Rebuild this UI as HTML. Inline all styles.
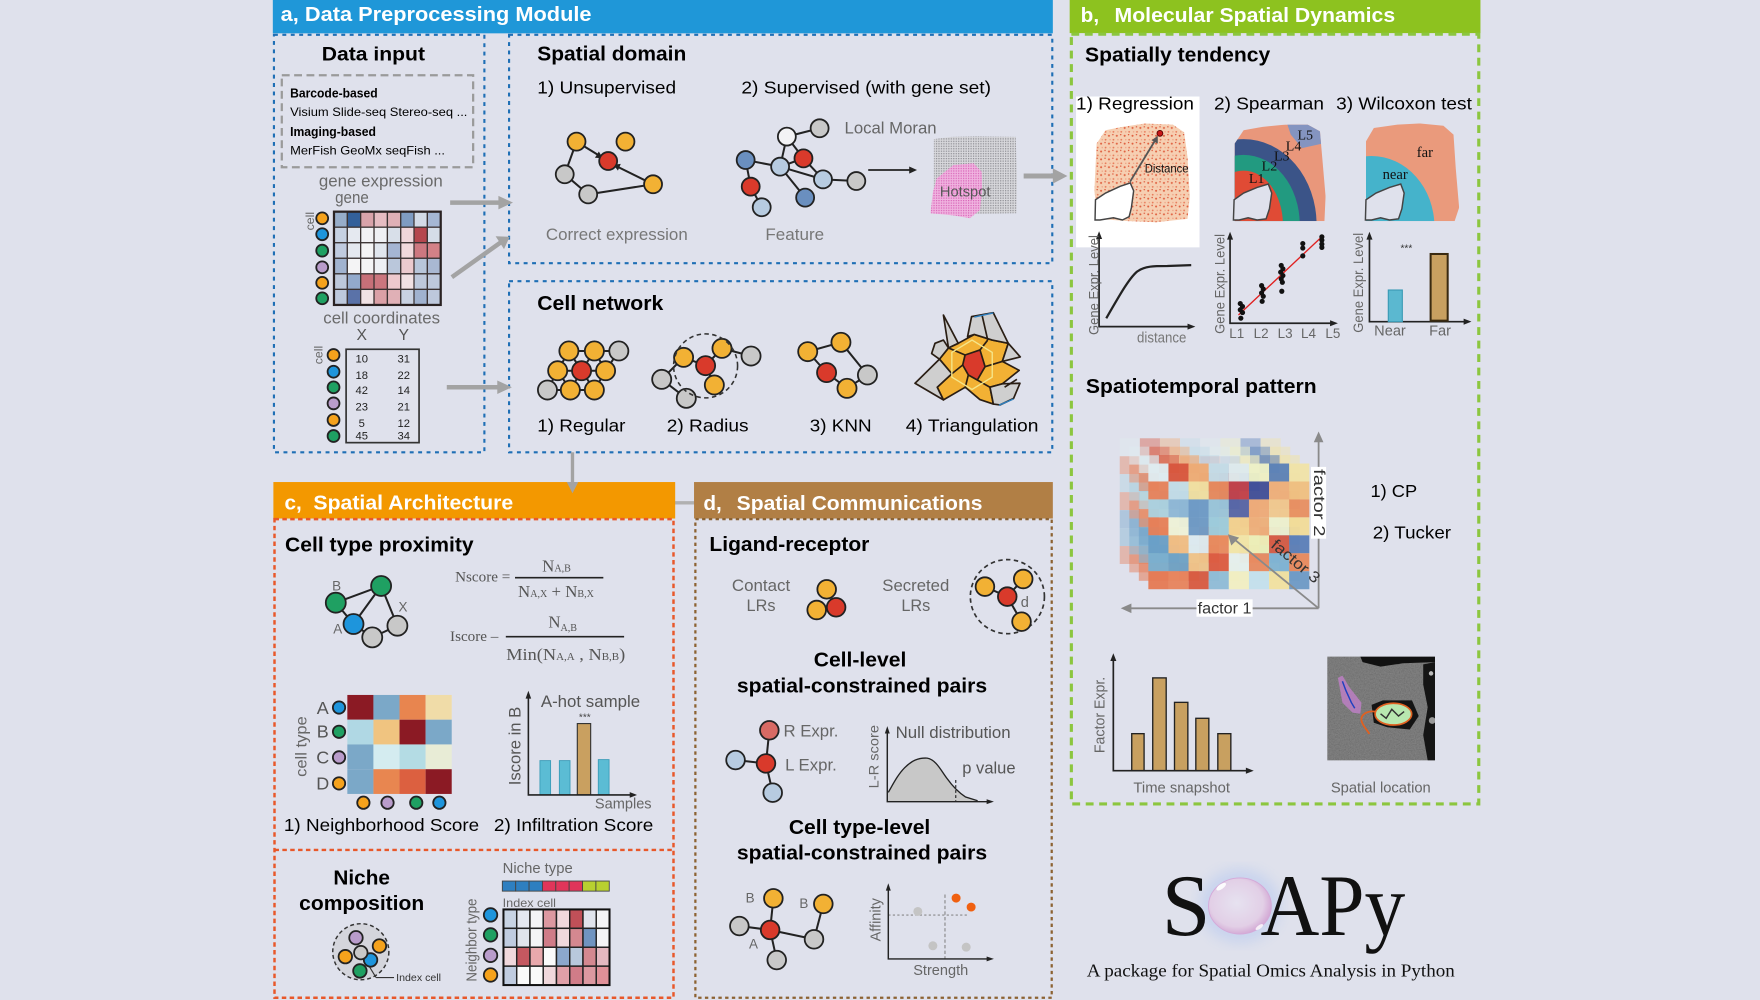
<!DOCTYPE html>
<html><head><meta charset="utf-8"><style>
html,body{margin:0;padding:0;background:#dfe1ec;}
svg{display:block;}
text{font-family:"Liberation Sans",Arial,sans-serif;}
.sf,.sf text,text.sf{font-family:"Liberation Serif","Times New Roman",serif;}
.n{stroke:#222;stroke-width:1.6;}
.o{fill:#f2b134}.r{fill:#d93a2b}.g{fill:#c8c8c8}.w{fill:#f3f3f5}.lb{fill:#b7cbe0}.sb{fill:#6a8fbf}
.cb{fill:#1e95dc}.cg{fill:#1fa062}.cp{fill:#b99ccb}.co{fill:#f5a21c}
.e{stroke:#222;stroke-width:1.8;fill:none}
.gl{fill:#666}
.hm rect{stroke:#3a3232;stroke-width:1.1}
</style></head><body>
<svg width="1760" height="1000" viewBox="0 0 1568 891" xmlns="http://www.w3.org/2000/svg">
<defs>
<pattern id="speck" width="7" height="7" patternUnits="userSpaceOnUse">
<rect width="7" height="7" fill="#f6cfb2"/>
<circle cx="1" cy="2" r="0.9" fill="#e0603f"/><circle cx="5" cy="5.5" r="0.8" fill="#e87a58"/><circle cx="4.5" cy="1" r="0.6" fill="#d9482c"/><circle cx="2" cy="5.5" r="0.6" fill="#ec9a7c"/>
</pattern>
<pattern id="dotg" width="2.2" height="2.2" patternUnits="userSpaceOnUse">
<rect width="2.2" height="2.2" fill="#d8d8dc"/><rect width="1.1" height="1.1" fill="#8e8e94"/>
</pattern>
<pattern id="dotp" width="2.2" height="2.2" patternUnits="userSpaceOnUse">
<rect width="2.2" height="2.2" fill="#f0b4e0"/><rect width="1.1" height="1.1" fill="#d865b8"/>
</pattern>
<filter id="noise" x="0" y="0" width="1" height="1">
<feTurbulence type="fractalNoise" baseFrequency="0.9" numOctaves="2" seed="4"/>
<feColorMatrix type="saturate" values="0"/>
<feComponentTransfer><feFuncA type="linear" slope="0" intercept="0.4"/></feComponentTransfer>
</filter>
<filter id="blur6"><feGaussianBlur stdDeviation="6"/></filter>
<radialGradient id="bub" cx="0.45" cy="0.45" r="0.6">
<stop offset="0" stop-color="#e6e2f0"/><stop offset="0.7" stop-color="#e2cfe6"/><stop offset="1" stop-color="#cf9fd0"/>
</radialGradient>
<g id="tg">
<rect x="0" y="0" width="17.93" height="16" fill="#e0ecf0"/><rect x="17.93" y="0" width="17.93" height="16" fill="#d8553d"/><rect x="35.86" y="0" width="17.93" height="16" fill="#eeac76"/><rect x="53.79" y="0" width="17.93" height="16" fill="#c4dde8"/><rect x="71.72" y="0" width="17.93" height="16" fill="#e0ecee"/><rect x="89.65" y="0" width="17.93" height="16" fill="#eef2c8"/><rect x="107.58" y="0" width="17.93" height="16" fill="#5b82b8"/><rect x="125.51" y="0" width="17.93" height="16" fill="#f1e4a8"/>
<rect x="0" y="16" width="17.93" height="16" fill="#e8825a"/><rect x="17.93" y="16" width="17.93" height="16" fill="#c4dde8"/><rect x="35.86" y="16" width="17.93" height="16" fill="#f2e0a0"/><rect x="53.79" y="16" width="17.93" height="16" fill="#e8895c"/><rect x="71.72" y="16" width="17.93" height="16" fill="#c0404a"/><rect x="89.65" y="16" width="17.93" height="16" fill="#3f4f9a"/><rect x="107.58" y="16" width="17.93" height="16" fill="#eeb07c"/><rect x="125.51" y="16" width="17.93" height="16" fill="#f0c080"/>
<rect x="0" y="32" width="17.93" height="16" fill="#abd0de"/><rect x="17.93" y="32" width="17.93" height="16" fill="#8fb8d6"/><rect x="35.86" y="32" width="17.93" height="16" fill="#6e9ac6"/><rect x="53.79" y="32" width="17.93" height="16" fill="#99c4da"/><rect x="71.72" y="32" width="17.93" height="16" fill="#5565a8"/><rect x="89.65" y="32" width="17.93" height="16" fill="#eeaa78"/><rect x="107.58" y="32" width="17.93" height="16" fill="#f0c890"/><rect x="125.51" y="32" width="17.93" height="16" fill="#e88f60"/>
<rect x="0" y="48" width="17.93" height="16" fill="#e67f58"/><rect x="17.93" y="48" width="17.93" height="16" fill="#eef2d8"/><rect x="35.86" y="48" width="17.93" height="16" fill="#6e9ac6"/><rect x="53.79" y="48" width="17.93" height="16" fill="#9ccbdc"/><rect x="71.72" y="48" width="17.93" height="16" fill="#f2d08f"/><rect x="89.65" y="48" width="17.93" height="16" fill="#eeb07c"/><rect x="107.58" y="48" width="17.93" height="16" fill="#eef2d0"/><rect x="125.51" y="48" width="17.93" height="16" fill="#f2dc98"/>
<rect x="0" y="64" width="17.93" height="16" fill="#6aa0c8"/><rect x="17.93" y="64" width="17.93" height="16" fill="#f0bd84"/><rect x="35.86" y="64" width="17.93" height="16" fill="#dcecf2"/><rect x="53.79" y="64" width="17.93" height="16" fill="#e8895c"/><rect x="71.72" y="64" width="17.93" height="16" fill="#f2e6a8"/><rect x="89.65" y="64" width="17.93" height="16" fill="#eef0b8"/><rect x="107.58" y="64" width="17.93" height="16" fill="#d65c46"/><rect x="125.51" y="64" width="17.93" height="16" fill="#5b7fb8"/>
<rect x="0" y="80" width="17.93" height="16" fill="#7ab0d0"/><rect x="17.93" y="80" width="17.93" height="16" fill="#6ea4c8"/><rect x="35.86" y="80" width="17.93" height="16" fill="#f0c48a"/><rect x="53.79" y="80" width="17.93" height="16" fill="#dc5a40"/><rect x="71.72" y="80" width="17.93" height="16" fill="#e6f0ec"/><rect x="89.65" y="80" width="17.93" height="16" fill="#e88a60"/><rect x="107.58" y="80" width="17.93" height="16" fill="#80b4d4"/><rect x="125.51" y="80" width="17.93" height="16" fill="#e8895c"/>
<rect x="0" y="96" width="17.93" height="16" fill="#e67a54"/><rect x="17.93" y="96" width="17.93" height="16" fill="#e8845c"/><rect x="35.86" y="96" width="17.93" height="16" fill="#d85a40"/><rect x="53.79" y="96" width="17.93" height="16" fill="#8fbcd6"/><rect x="71.72" y="96" width="17.93" height="16" fill="#f2efc2"/><rect x="89.65" y="96" width="17.93" height="16" fill="#c4e0ec"/><rect x="107.58" y="96" width="17.93" height="16" fill="#f2e2a0"/><rect x="125.51" y="96" width="17.93" height="16" fill="#6e9ac6"/>
</g>
<clipPath id="tisS"><path d="M1100,128 L1108,116 L1125,113 L1145,111 L1165,111 L1176,117 L1178,140 L1181,175 L1180,197 L1100,197 Z"/></clipPath>
<clipPath id="tisW"><path d="M1217,126 L1224,114 L1245,111 L1265,110 L1286,112 L1295,120 L1297,150 L1300,185 L1296,197 L1217,197 Z"/></clipPath>
<clipPath id="micro"><rect x="1182.5" y="585" width="96" height="92.5"/></clipPath>
</defs>

<rect width="1568" height="891" fill="#dfe1ec"/>

<!-- ============ PANEL A ============ -->
<rect x="243" y="0" width="695" height="29.7" fill="#1f97d8"/>
<text x="250" y="18.6" font-size="18.5" font-weight="bold" fill="#fff" textLength="277" lengthAdjust="spacingAndGlyphs">a, Data Preprocessing Module</text>
<g fill="none" stroke="#1f6fb5" stroke-width="1.9" stroke-dasharray="3.5 4">
<rect x="244" y="31" width="187.5" height="372"/>
<rect x="453.5" y="31" width="484" height="203.5"/>
<rect x="453.5" y="250.5" width="484" height="152.5"/>
</g>

<!-- Data input -->
<text x="332.6" y="54" font-size="17.5" font-weight="bold" text-anchor="middle" textLength="92" lengthAdjust="spacingAndGlyphs">Data input</text>
<rect x="251" y="67" width="170.5" height="82" fill="none" stroke="#9a9a9a" stroke-width="2" stroke-dasharray="7 4"/>
<text x="258.4" y="86.7" font-size="11.5" font-weight="bold" textLength="78" lengthAdjust="spacingAndGlyphs">Barcode-based</text>
<text x="258.4" y="103.4" font-size="11" textLength="158" lengthAdjust="spacingAndGlyphs">Visium  Slide-seq  Stereo-seq ...</text>
<text x="258.4" y="121.2" font-size="11.5" font-weight="bold" textLength="76.5" lengthAdjust="spacingAndGlyphs">Imaging-based</text>
<text x="258.4" y="137.5" font-size="11" textLength="138" lengthAdjust="spacingAndGlyphs">MerFish  GeoMx  seqFish ...</text>

<text x="284" y="166.3" font-size="15" fill="#6a6a6a" textLength="110.5" lengthAdjust="spacingAndGlyphs">gene expression</text>
<text x="298.5" y="181" font-size="15" fill="#6a6a6a" textLength="30" lengthAdjust="spacingAndGlyphs">gene</text>
<text x="276" y="197" font-size="11" fill="#666" text-anchor="middle" dominant-baseline="central" transform="rotate(-90 276 197)">cell</text>
<g class="hm">
<rect x="297.5" y="188.6" width="11.89" height="13.85" fill="#97adc9"/><rect x="309.4" y="188.6" width="11.89" height="13.85" fill="#33609a"/><rect x="321.3" y="188.6" width="11.89" height="13.85" fill="#d9a3aa"/><rect x="333.2" y="188.6" width="11.89" height="13.85" fill="#e6bcc2"/><rect x="345.1" y="188.6" width="11.89" height="13.85" fill="#dfb0b6"/><rect x="357" y="188.6" width="11.89" height="13.85" fill="#7f9cc2"/><rect x="368.8" y="188.6" width="11.89" height="13.85" fill="#d3dbe7"/><rect x="380.7" y="188.6" width="11.89" height="13.85" fill="#a5b7d4"/>
<rect x="297.5" y="202.45" width="11.89" height="13.85" fill="#c6d1e2"/><rect x="309.4" y="202.45" width="11.89" height="13.85" fill="#e5e9f0"/><rect x="321.3" y="202.45" width="11.89" height="13.85" fill="#f2f2f5"/><rect x="333.2" y="202.45" width="11.89" height="13.85" fill="#eff0f4"/><rect x="345.1" y="202.45" width="11.89" height="13.85" fill="#d8dfe9"/><rect x="357" y="202.45" width="11.89" height="13.85" fill="#f0d6da"/><rect x="368.8" y="202.45" width="11.89" height="13.85" fill="#b5474e"/><rect x="380.7" y="202.45" width="11.89" height="13.85" fill="#d5dde8"/>
<rect x="297.5" y="216.3" width="11.89" height="13.85" fill="#c0cbdf"/><rect x="309.4" y="216.3" width="11.89" height="13.85" fill="#e4e8ef"/><rect x="321.3" y="216.3" width="11.89" height="13.85" fill="#f5f5f6"/><rect x="333.2" y="216.3" width="11.89" height="13.85" fill="#e1e6ee"/><rect x="345.1" y="216.3" width="11.89" height="13.85" fill="#a5b5d3"/><rect x="357" y="216.3" width="11.89" height="13.85" fill="#f1d9dc"/><rect x="368.8" y="216.3" width="11.89" height="13.85" fill="#cd7880"/><rect x="380.7" y="216.3" width="11.89" height="13.85" fill="#d38187"/>
<rect x="297.5" y="230.15" width="11.89" height="13.85" fill="#a1b3cf"/><rect x="309.4" y="230.15" width="11.89" height="13.85" fill="#f4f4f5"/><rect x="321.3" y="230.15" width="11.89" height="13.85" fill="#f5f5f6"/><rect x="333.2" y="230.15" width="11.89" height="13.85" fill="#eef0f4"/><rect x="345.1" y="230.15" width="11.89" height="13.85" fill="#bac7db"/><rect x="357" y="230.15" width="11.89" height="13.85" fill="#ebcace"/><rect x="368.8" y="230.15" width="11.89" height="13.85" fill="#b8c6da"/><rect x="380.7" y="230.15" width="11.89" height="13.85" fill="#a9b8d2"/>
<rect x="297.5" y="244" width="11.89" height="13.85" fill="#bdc8db"/><rect x="309.4" y="244" width="11.89" height="13.85" fill="#93aacc"/><rect x="321.3" y="244" width="11.89" height="13.85" fill="#c77078"/><rect x="333.2" y="244" width="11.89" height="13.85" fill="#cb767e"/><rect x="345.1" y="244" width="11.89" height="13.85" fill="#edc9cd"/><rect x="357" y="244" width="11.89" height="13.85" fill="#f1e1e3"/><rect x="368.8" y="244" width="11.89" height="13.85" fill="#bdc8db"/><rect x="380.7" y="244" width="11.89" height="13.85" fill="#bdc8dc"/>
<rect x="297.5" y="257.85" width="11.89" height="13.85" fill="#bdc8dc"/><rect x="309.4" y="257.85" width="11.89" height="13.85" fill="#5a72a8"/><rect x="321.3" y="257.85" width="11.89" height="13.85" fill="#f1e2e4"/><rect x="333.2" y="257.85" width="11.89" height="13.85" fill="#dba0a6"/><rect x="345.1" y="257.85" width="11.89" height="13.85" fill="#e0b0b6"/><rect x="357" y="257.85" width="11.89" height="13.85" fill="#c9d2e2"/><rect x="368.8" y="257.85" width="11.89" height="13.85" fill="#a0b2cf"/><rect x="380.7" y="257.85" width="11.89" height="13.85" fill="#bdc8dc"/>
</g>
<rect x="297.5" y="188.6" width="95.1" height="83.1" fill="none" stroke="#2a2222" stroke-width="2"/>
<g class="n">
<circle cx="287" cy="194.5" r="5.3" class="co"/><circle cx="287" cy="208.7" r="5.3" class="cb"/><circle cx="287" cy="223.3" r="5.3" class="cg"/><circle cx="287" cy="238.2" r="5.3" class="cp"/><circle cx="287" cy="252" r="5.3" class="co"/><circle cx="287" cy="265.8" r="5.3" class="cg"/>
</g>

<text x="288" y="288.3" font-size="15" fill="#6a6a6a" textLength="104" lengthAdjust="spacingAndGlyphs">cell coordinates</text>
<text x="322.2" y="303" font-size="14" fill="#555" text-anchor="middle">X</text>
<text x="359.7" y="303" font-size="14" fill="#555" text-anchor="middle">Y</text>
<text x="283.6" y="316.3" font-size="11" fill="#666" text-anchor="middle" dominant-baseline="central" transform="rotate(-90 283.6 316.3)">cell</text>
<rect x="308.3" y="311.2" width="65" height="83.2" fill="none" stroke="#333" stroke-width="1.5"/>
<g font-size="10" fill="#222" text-anchor="middle">
<text x="322.2" y="322.8">10</text><text x="359.7" y="322.8">31</text>
<text x="322.2" y="337.5">18</text><text x="359.7" y="337.5">22</text>
<text x="322.2" y="351">42</text><text x="359.7" y="351">14</text>
<text x="322.2" y="365.8">23</text><text x="359.7" y="365.8">21</text>
<text x="322.2" y="380.6">5</text><text x="359.7" y="380.6">12</text>
<text x="322.2" y="391.5">45</text><text x="359.7" y="391.5">34</text>
</g>
<g class="n">
<circle cx="297.1" cy="316.3" r="5.3" class="co"/><circle cx="297.1" cy="331.2" r="5.3" class="cb"/><circle cx="297.1" cy="345.1" r="5.3" class="cg"/><circle cx="297.1" cy="359.4" r="5.3" class="cp"/><circle cx="297.1" cy="374.2" r="5.3" class="co"/><circle cx="297.1" cy="388.5" r="5.3" class="cg"/>
</g>

<!-- gray arrows a -->
<g fill="#a3a3a3" stroke="#a3a3a3">
<line x1="401" y1="180.5" x2="446" y2="180.5" stroke-width="4"/>
<polygon points="444,174.5 457,180.5 444,186.5" stroke="none"/>
<line x1="402.5" y1="247" x2="446" y2="216" stroke-width="4"/>
<polygon points="441.5,210.5 454,211 449,222" stroke="none"/>
<line x1="398" y1="345" x2="444" y2="345" stroke-width="4"/>
<polygon points="443,339 456,345 443,351" stroke="none"/>
</g>

<!-- Spatial domain -->
<text x="478.6" y="54" font-size="18" font-weight="bold" textLength="132.8" lengthAdjust="spacingAndGlyphs">Spatial domain</text>
<text x="478.6" y="83.2" font-size="16" textLength="123.7" lengthAdjust="spacingAndGlyphs">1) Unsupervised</text>
<text x="660.5" y="83.2" font-size="16" textLength="222.4" lengthAdjust="spacingAndGlyphs">2) Supervised (with gene set)</text>
<g class="e">
<line x1="513.6" y1="126.2" x2="536" y2="140"/>
<line x1="513.6" y1="126.2" x2="503.1" y2="155.3"/>
<line x1="503.1" y1="155.3" x2="524" y2="173.2"/>
<line x1="524" y1="173.2" x2="581.8" y2="164.2"/>
<line x1="581.8" y1="164.2" x2="547" y2="147"/>
</g>
<polygon points="537,141 530,140.5 533.5,135" fill="#222"/>
<polygon points="546.5,146.8 553,146 550.5,152" fill="#222"/>
<g class="n">
<circle cx="513.6" cy="126.2" r="8" class="o"/><circle cx="557.2" cy="126.2" r="8" class="o"/><circle cx="541.8" cy="143.5" r="8" class="r"/><circle cx="503.1" cy="155.3" r="8" class="g"/><circle cx="524" cy="173.2" r="8" class="g"/><circle cx="581.8" cy="164.2" r="8" class="o"/>
</g>
<text x="486.3" y="213.8" font-size="14.5" fill="#777" textLength="126.4" lengthAdjust="spacingAndGlyphs">Correct expression</text>
<g class="e">
<line x1="701" y1="121.7" x2="730.2" y2="114.3"/>
<line x1="701" y1="121.7" x2="695" y2="148.5"/>
<line x1="701" y1="121.7" x2="715.8" y2="141.1"/>
<line x1="664.3" y1="142.6" x2="695" y2="148.5"/>
<line x1="664.3" y1="142.6" x2="668.8" y2="166.3"/>
<line x1="668.8" y1="166.3" x2="678.6" y2="184.7"/>
<line x1="695" y1="148.5" x2="715.8" y2="141.1"/>
<line x1="695" y1="148.5" x2="733.2" y2="159.8"/>
<line x1="695" y1="148.5" x2="717.3" y2="176.1"/>
<line x1="715.8" y1="141.1" x2="733.2" y2="159.8"/>
<line x1="733.2" y1="159.8" x2="762.9" y2="161.3"/>
</g>
<g class="n">
<circle cx="701" cy="121.7" r="8" class="w"/><circle cx="730.2" cy="114.3" r="8" class="g"/><circle cx="664.3" cy="142.6" r="8" class="sb"/><circle cx="695" cy="148.5" r="8" class="lb"/><circle cx="715.8" cy="141.1" r="8" class="r"/><circle cx="733.2" cy="159.8" r="8" class="lb"/><circle cx="762.9" cy="161.3" r="8" class="g"/><circle cx="668.8" cy="166.3" r="8" class="r"/><circle cx="717.3" cy="176.1" r="8" class="sb"/><circle cx="678.6" cy="184.7" r="8" class="lb"/>
</g>
<text x="681.9" y="213.8" font-size="14.5" fill="#777" textLength="52.3" lengthAdjust="spacingAndGlyphs">Feature</text>
<text x="752.4" y="118.8" font-size="14.5" fill="#666" textLength="82" lengthAdjust="spacingAndGlyphs">Local Moran</text>
<line x1="773.5" y1="151.5" x2="813" y2="151.5" stroke="#222" stroke-width="1.6"/>
<polygon points="810,148.3 817,151.5 810,154.7" fill="#222"/>
<path d="M832,124 L848,122 L870,121.5 L905,122 L906,160 L905.5,190 L870,190.5 L832,190 Z" fill="url(#dotg)"/>
<path d="M829,190 L831,172 L834.5,159 L849.4,147 L867.2,145.5 L874.6,153 L875,170 L873.1,187 L864.2,194.5 L850,192 Z" fill="url(#dotp)"/>
<text x="837.4" y="175.2" font-size="13.5" fill="#555" textLength="45" lengthAdjust="spacingAndGlyphs">Hotspot</text>
<line x1="912" y1="156.8" x2="940" y2="156.8" stroke="#a3a3a3" stroke-width="4.5"/>
<polygon points="938,150 951,156.8 938,163.6" fill="#a3a3a3"/>

<!-- Cell network -->
<text x="478.6" y="276.2" font-size="18" font-weight="bold" textLength="112.3" lengthAdjust="spacingAndGlyphs">Cell network</text>
<g class="e">
<line x1="506.8" y1="312.7" x2="551.3" y2="312.7"/><line x1="496.8" y1="330.3" x2="539.5" y2="330.3"/><line x1="487.7" y1="347.5" x2="529.5" y2="347.5"/>
<line x1="506.8" y1="312.7" x2="496.8" y2="330.3"/><line x1="506.8" y1="312.7" x2="518.1" y2="330.3"/><line x1="529.5" y1="312.7" x2="518.1" y2="330.3"/><line x1="529.5" y1="312.7" x2="539.5" y2="330.3"/><line x1="551.3" y1="312.7" x2="539.5" y2="330.3"/>
<line x1="496.8" y1="330.3" x2="487.7" y2="347.5"/><line x1="496.8" y1="330.3" x2="508.1" y2="347.5"/><line x1="518.1" y1="330.3" x2="508.1" y2="347.5"/><line x1="518.1" y1="330.3" x2="529.5" y2="347.5"/><line x1="539.5" y1="330.3" x2="529.5" y2="347.5"/>
</g>
<g class="n">
<circle cx="506.8" cy="312.7" r="8.5" class="o"/><circle cx="529.5" cy="312.7" r="8.5" class="o"/><circle cx="551.3" cy="312.7" r="8.5" class="g"/>
<circle cx="496.8" cy="330.3" r="8.5" class="o"/><circle cx="518.1" cy="330.3" r="8.5" class="r"/><circle cx="539.5" cy="330.3" r="8.5" class="o"/>
<circle cx="487.7" cy="347.5" r="8.5" class="g"/><circle cx="508.1" cy="347.5" r="8.5" class="o"/><circle cx="529.5" cy="347.5" r="8.5" class="o"/>
</g>
<g class="e">
<line x1="609" y1="318.4" x2="628.6" y2="325.8"/><line x1="628.6" y1="325.8" x2="643.2" y2="310.4"/><line x1="643.2" y1="310.4" x2="669.1" y2="317.2"/><line x1="628.6" y1="325.8" x2="636.4" y2="343"/><line x1="589.5" y1="338" x2="609" y2="318.4"/><line x1="589.5" y1="338" x2="611.4" y2="354.9"/>
</g>
<g class="n">
<circle cx="609" cy="318.4" r="8.5" class="o"/><circle cx="643.2" cy="310.4" r="8.5" class="o"/><circle cx="669.1" cy="317.2" r="8.5" class="g"/><circle cx="628.6" cy="325.8" r="8.5" class="r"/><circle cx="589.5" cy="338" r="8.5" class="g"/><circle cx="636.4" cy="343" r="8.5" class="o"/><circle cx="611.4" cy="354.9" r="8.5" class="g"/>
</g>
<circle cx="628.6" cy="326" r="28.5" fill="none" stroke="#333" stroke-width="1.4" stroke-dasharray="4 3"/>
<g class="e">
<line x1="719.6" y1="313.3" x2="749.2" y2="305"/><line x1="719.6" y1="313.3" x2="736.4" y2="332"/><line x1="749.2" y1="305" x2="772.8" y2="334.1"/><line x1="736.4" y1="332" x2="754.6" y2="346"/><line x1="754.6" y1="346" x2="772.8" y2="334.1"/>
</g>
<g class="n">
<circle cx="719.6" cy="313.3" r="8.5" class="o"/><circle cx="749.2" cy="305" r="8.5" class="o"/><circle cx="736.4" cy="332" r="8.5" class="r"/><circle cx="772.8" cy="334.1" r="8.5" class="g"/><circle cx="754.6" cy="346" r="8.5" class="o"/>
</g>
<g stroke="#2a1e14" stroke-width="1.5" stroke-linejoin="round">
<polygon points="853.7,305.9 868,298 884,303 898.3,305.9 893,322 908,330 893,342 882,345 885,360 873,356 860,345 840.5,356.3 835,345 848,333 837,320 845,310" fill="#f2b134"/>
<polygon points="840.5,280.7 853.7,305.9 845,310" fill="#cfcfcf"/>
<polygon points="862,300 865.6,282.1 884.9,278.6 898.3,305.9 884,303 868,298" fill="#cfcfcf"/>
<polygon points="898.3,305.9 909,318 893,322" fill="#cfcfcf"/>
<polygon points="893,342 908.7,341.5 903,355 890.9,360.8 885,360 882,345" fill="#cfcfcf"/>
<polygon points="815.2,341.5 837,320 848,333 835,345 840.5,356.3" fill="#cfcfcf"/>
<polygon points="833,305.9 840.5,303 845,310 837,320 830,315" fill="#cfcfcf"/>
<polygon points="859.8,316.3 873.1,311.8 877.6,326.7 870.7,338.6 862.7,334.1 857.7,325.2" fill="#d93a2b"/>
<polyline points="873.1,311.8 880,303" fill="none"/><polyline points="877.6,326.7 893,322" fill="none"/><polyline points="870.7,338.6 882,345" fill="none"/><polyline points="862.7,334.1 860,345" fill="none"/><polyline points="857.7,325.2 848,333" fill="none"/><polyline points="859.8,316.3 845,310" fill="none"/><polyline points="875,281 880,303" fill="none"/><polyline points="895,345 906,338" fill="none"/>
</g>
<polygon points="866,303 884,314 884,336 866,347 848,336 848,314" fill="none" stroke="#f5e68a" stroke-width="1.2"/>
<line x1="868" y1="282.5" x2="885" y2="278.8" stroke="#2f80c0" stroke-width="1.3"/>
<line x1="890" y1="361" x2="903" y2="355.5" stroke="#2f80c0" stroke-width="1.3"/>
<text x="478.6" y="384.6" font-size="16" textLength="78.6" lengthAdjust="spacingAndGlyphs">1) Regular</text>
<text x="594" y="384.6" font-size="16" textLength="72.9" lengthAdjust="spacingAndGlyphs">2) Radius</text>
<text x="721.4" y="384.6" font-size="16" textLength="55.1" lengthAdjust="spacingAndGlyphs">3) KNN</text>
<text x="806.9" y="384.6" font-size="16" textLength="118.3" lengthAdjust="spacingAndGlyphs">4) Triangulation</text>

<line x1="510" y1="403" x2="510" y2="430" stroke="#a3a3a3" stroke-width="3"/>
<line x1="601" y1="448" x2="619" y2="448" stroke="#b0b0b0" stroke-width="3"/>

<!-- ============ PANEL B ============ -->
<rect x="953" y="0" width="366" height="29.5" fill="#8dc21f"/>
<text x="962.8" y="19.5" font-size="18.5" font-weight="bold" fill="#fff">b,</text>
<text x="993" y="19.5" font-size="18.5" font-weight="bold" fill="#fff" textLength="250" lengthAdjust="spacingAndGlyphs">Molecular Spatial Dynamics</text>
<rect x="954.5" y="30.5" width="363" height="685.8" fill="none" stroke="#8cc63f" stroke-width="2.8" stroke-dasharray="7 5"/>
<text x="966.7" y="55" font-size="18.5" font-weight="bold" textLength="165" lengthAdjust="spacingAndGlyphs">Spatially tendency</text>

<rect x="958.7" y="86" width="110" height="134.4" fill="#fff"/>
<text x="958.7" y="97.4" font-size="16" textLength="105" lengthAdjust="spacingAndGlyphs">1) Regression</text>
<text x="1081.6" y="97.4" font-size="16" textLength="98" lengthAdjust="spacingAndGlyphs">2) Spearman</text>
<text x="1190.4" y="97.4" font-size="16" textLength="121" lengthAdjust="spacingAndGlyphs">3) Wilcoxon test</text>
<path d="M977,128 L985,116 L1000,113 L1020,110 L1045,111 L1055,118 L1058,140 L1060,175 L1058,195 L1030,198 L1005,197 L978,195 L975,170 Z" fill="url(#speck)"/>
<path d="M975.6,196 L976,178 L985,172 L998,166 L1007,163 L1010,170 L1008,185 L1006,193 L1000,196 L992,194 L980,196 Z" fill="#fff" stroke="#444" stroke-width="1.3"/>
<line x1="1006.8" y1="161.9" x2="1029.5" y2="124.5" stroke="#555" stroke-width="1.6"/>
<polygon points="1031.5,121 1031.5,128 1026,125" fill="#555"/>
<circle cx="1033.4" cy="118.8" r="2.6" fill="#c81818" stroke="#500" stroke-width="0.8"/>
<text x="1019.9" y="153.5" font-size="11" fill="#111" textLength="39" lengthAdjust="spacingAndGlyphs">Distance</text>
<g clip-path="url(#tisS)">
<rect x="1095" y="105" width="90" height="95" fill="#e9977b"/>
<polygon points="1146,108 1172,108 1180,118 1178,128 1160,132 1150,120" fill="#8494c0"/>
<ellipse cx="1108" cy="200" rx="65" ry="76" fill="#3b5488"/>
<ellipse cx="1108" cy="200" rx="50" ry="62" fill="#229a80"/>
<ellipse cx="1108" cy="200" rx="35" ry="48" fill="#e04b35"/>
</g>
<path d="M1098.9,196 L1099.5,178 L1108,172 L1120,167 L1130,164 L1133,172 L1131,186 L1128,195 L1120,196 L1112,194 L1104,196 Z" fill="#dfe1ec" stroke="#444" stroke-width="1.3"/>
<g class="sf" font-size="12.5" fill="#111" text-anchor="middle">
<text x="1119.6" y="163">L1</text><text x="1131" y="152">L2</text><text x="1142" y="143">L3</text><text x="1152.5" y="134">L4</text><text x="1162.9" y="124.5">L5</text>
</g>
<g clip-path="url(#tisW)">
<rect x="1212" y="105" width="92" height="95" fill="#ea9a7c"/>
<ellipse cx="1222" cy="202" rx="56" ry="63" fill="#45b3cb"/>
</g>
<path d="M1216.5,196 L1217,178 L1226,172 L1238,167 L1248,164 L1251,172 L1249,186 L1246,195 L1238,196 L1230,194 L1222,196 Z" fill="#dfe1ec" stroke="#444" stroke-width="1.3"/>
<text class="sf" x="1269.5" y="140" font-size="13" fill="#111" text-anchor="middle">far</text>
<text class="sf" x="1243" y="159.5" font-size="13" fill="#111" text-anchor="middle">near</text>

<g stroke="#222" stroke-width="1.5" fill="none">
<polyline points="979.2,209 979.2,291 1062,291"/>
<polyline points="1095.9,209.5 1095.9,288 1189,288"/>
<polyline points="1220.1,209.5 1220.1,286.6 1308,286.6"/>
</g>
<g fill="#222">
<polygon points="976.5,213 979.2,206 981.9,213"/><polygon points="1058,288.3 1065,291 1058,293.7"/>
<polygon points="1093.2,213.5 1095.9,206.5 1098.6,213.5"/><polygon points="1185,285.3 1192,288 1185,290.7"/>
<polygon points="1217.4,213.5 1220.1,206.5 1222.8,213.5"/><polygon points="1304,283.9 1311,286.6 1304,289.3"/>
</g>
<path d="M985.6,283.6 C998,262 1006,248 1013,242 C1020,237 1028,237 1040,237 L1061.3,236.2" fill="none" stroke="#222" stroke-width="2"/>
<text x="974.6" y="254" font-size="12" fill="#666" text-anchor="middle" dominant-baseline="central" transform="rotate(-90 974.6 254)" textLength="89" lengthAdjust="spacingAndGlyphs">Gene Expr. Level</text>
<text x="1013" y="305" font-size="13" fill="#777" textLength="44" lengthAdjust="spacingAndGlyphs">distance</text>
<text x="1087" y="253" font-size="12" fill="#666" text-anchor="middle" dominant-baseline="central" transform="rotate(-90 1087 253)" textLength="89" lengthAdjust="spacingAndGlyphs">Gene Expr. Level</text>
<line x1="1103.4" y1="280.7" x2="1177.7" y2="210.9" stroke="#e02020" stroke-width="1.2"/>
<g fill="#111">
<circle cx="1105" cy="270.5" r="2.3"/><circle cx="1107" cy="273" r="2.3"/><circle cx="1105" cy="276" r="2.3"/><circle cx="1107" cy="278.5" r="2.3"/><circle cx="1105.5" cy="283.5" r="2.3"/>
<circle cx="1124" cy="254.5" r="2.3"/><circle cx="1125.5" cy="257.5" r="2.3"/><circle cx="1124" cy="261" r="2.3"/><circle cx="1125.5" cy="264" r="2.3"/><circle cx="1124.5" cy="268.5" r="2.3"/>
<circle cx="1141.5" cy="236.5" r="2.3"/><circle cx="1143" cy="239.5" r="2.3"/><circle cx="1141" cy="242.5" r="2.3"/><circle cx="1143" cy="245.5" r="2.3"/><circle cx="1141.5" cy="248.5" r="2.3"/><circle cx="1142.5" cy="251.5" r="2.3"/><circle cx="1142" cy="259.5" r="2.3"/>
<circle cx="1160.7" cy="217" r="2.3"/><circle cx="1160.7" cy="221" r="2.3"/><circle cx="1160.7" cy="228" r="2.3"/>
<circle cx="1177.7" cy="211" r="2.3"/><circle cx="1177.7" cy="214" r="2.3"/><circle cx="1177.7" cy="217.5" r="2.3"/><circle cx="1177.7" cy="220.5" r="2.3"/>
</g>
<g font-size="12" fill="#666" text-anchor="middle">
<text x="1101.9" y="301">L1</text><text x="1123.6" y="301">L2</text><text x="1145" y="301">L3</text><text x="1165.8" y="301">L4</text><text x="1187.5" y="301">L5</text>
</g>
<text x="1210.2" y="252" font-size="12" fill="#666" text-anchor="middle" dominant-baseline="central" transform="rotate(-90 1210.2 252)" textLength="89" lengthAdjust="spacingAndGlyphs">Gene Expr. Level</text>
<rect x="1236.9" y="258.4" width="12.5" height="28.2" fill="#5bb8d0" stroke="#3a9ab5" stroke-width="1"/>
<rect x="1274.6" y="226.3" width="15.2" height="59.4" fill="#c8a060" stroke="#3a2a10" stroke-width="1.8"/>
<text x="1253" y="224" font-size="9" fill="#333" text-anchor="middle">***</text>
<text x="1238.4" y="299" font-size="13" fill="#666" text-anchor="middle">Near</text>
<text x="1283" y="299" font-size="13" fill="#666" text-anchor="middle">Far</text>

<text x="967.5" y="350" font-size="18.5" font-weight="bold" textLength="205.5" lengthAdjust="spacingAndGlyphs">Spatiotemporal pattern</text>
<use href="#tg" transform="translate(997.6 390.5)" opacity="0.4"/>
<use href="#tg" transform="translate(1006.1 398)" opacity="0.45"/>
<use href="#tg" transform="translate(1014.6 405.5)" opacity="0.55"/>
<use href="#tg" transform="translate(1023.1 413)" opacity="0.95"/>
<g stroke="#8a8a8a" stroke-width="1.6" fill="none">
<line x1="1174.8" y1="542" x2="1174.8" y2="392"/>
<line x1="1174.8" y1="542" x2="1006" y2="542"/>
<line x1="1174.8" y1="542" x2="1099" y2="480"/>
</g>
<g fill="#8a8a8a">
<polygon points="1170.5,394 1174.8,384.5 1179.1,394"/>
<polygon points="1008,537.7 998.5,542 1008,546.3"/>
<polygon points="1097,486 1094,476 1104,479"/>
</g>
<rect x="1066" y="534" width="50" height="15.5" fill="#fff"/>
<text x="1091" y="546.5" font-size="14" fill="#333" text-anchor="middle" textLength="48" lengthAdjust="spacingAndGlyphs">factor 1</text>
<rect x="1168" y="416" width="13.5" height="64" fill="#fff"/>
<text x="1174.8" y="448" font-size="14" fill="#333" text-anchor="middle" dominant-baseline="central" transform="rotate(90 1174.8 448)" textLength="60" lengthAdjust="spacingAndGlyphs">factor 2</text>
<text x="1154" y="500.6" font-size="14" fill="#333" text-anchor="middle" dominant-baseline="central" transform="rotate(40 1154 500.6)" textLength="52" lengthAdjust="spacingAndGlyphs">factor 3</text>
<text x="1221" y="443" font-size="16" textLength="41.6" lengthAdjust="spacingAndGlyphs">1) CP</text>
<text x="1223" y="479.6" font-size="16" textLength="69.8" lengthAdjust="spacingAndGlyphs">2) Tucker</text>
<g stroke="#222" stroke-width="1.2">
<rect x="1008.3" y="653.7" width="11" height="33" fill="#c8a060"/>
<rect x="1027" y="604" width="12" height="82.7" fill="#c8a060"/>
<rect x="1046.4" y="625.8" width="11.9" height="60.9" fill="#c8a060"/>
<rect x="1065.4" y="640" width="11.6" height="46.7" fill="#c8a060"/>
<rect x="1085" y="653.7" width="11.6" height="33" fill="#c8a060"/>
</g>
<polyline points="991.9,585 991.9,686.7 1112,686.7" fill="none" stroke="#222" stroke-width="1.5"/>
<polygon points="989.2,589 991.9,582 994.6,589" fill="#222"/>
<polygon points="1110,684 1117,686.7 1110,689.4" fill="#222"/>
<text x="980.3" y="637" font-size="13" fill="#666" text-anchor="middle" dominant-baseline="central" transform="rotate(-90 980.3 637)" textLength="68" lengthAdjust="spacingAndGlyphs">Factor Expr.</text>
<text x="1052.8" y="706" font-size="13" fill="#666" text-anchor="middle" textLength="86" lengthAdjust="spacingAndGlyphs">Time snapshot</text>
<!-- microscopy -->
<g clip-path="url(#micro)">
<rect x="1182.5" y="585" width="96" height="92.5" fill="#6c6c6c"/>
<rect x="1182.5" y="585" width="96" height="92.5" filter="url(#noise)"/>
<rect x="1182.5" y="585" width="96" height="92.5" fill="#5a5a5a" opacity="0.35"/>
<path d="M1212,585 L1278.5,585 L1278.5,590 L1250,591 L1230,594 L1214,590 Z" fill="#111"/>
<path d="M1268,592 L1278.5,590 L1278.5,677.5 L1272,677.5 L1268,655 L1272,630 L1268,610 Z" fill="#151515"/>
<path d="M1222,628 L1232,624 L1258,624 L1264,638 L1256,650 L1236,648 L1224,644 Z" fill="#141414"/>
<circle cx="1275" cy="600" r="2" fill="#bbb"/><circle cx="1276" cy="642" r="3" fill="#999"/>
<path d="M1192,604 L1196,602 L1202,612 L1213,626 L1212,636 L1205,635 L1196,626 Z" fill="#c080c8" opacity="0.8"/>
<path d="M1196,607 L1199,615 L1204,626 L1207,631" fill="none" stroke="#2040c0" stroke-width="1.3"/>
<ellipse cx="1241.4" cy="636.3" rx="16.3" ry="9.7" fill="#b8e8b0" stroke="#e06020" stroke-width="1.5"/>
<path d="M1230,636 L1235,640 L1240,632 L1246,638 L1251,634" fill="none" stroke="#333" stroke-width="1.3"/>
<path d="M1225,634 C1218,633 1212,637 1213,642 C1214,647 1218,650 1220,654" fill="none" stroke="#e06020" stroke-width="1.6"/>
</g>
<text x="1230.2" y="706" font-size="13" fill="#666" text-anchor="middle" textLength="89" lengthAdjust="spacingAndGlyphs">Spatial location</text>

<!-- Logo -->
<ellipse cx="1104.7" cy="807.2" rx="36" ry="33" fill="#c6d2ee" filter="url(#blur6)" opacity="0.9"/>
<text class="sf" x="1035" y="833" font-size="78" fill="#111">S</text>
<ellipse cx="1104.7" cy="807.2" rx="28" ry="25" fill="url(#bub)" stroke="#d4a8d8" stroke-width="0.8"/>
<ellipse cx="1088" cy="790" rx="5" ry="2.2" fill="#fff" opacity="0.9" transform="rotate(-35 1088 790)"/>
<ellipse cx="1122" cy="826" rx="4" ry="1.6" fill="#fff" opacity="0.8" transform="rotate(-35 1122 826)"/>
<text class="sf" x="1123" y="833" font-size="78" fill="#111" textLength="129" lengthAdjust="spacingAndGlyphs">APy</text>
<text class="sf" x="968.2" y="870.2" font-size="16" fill="#111" textLength="328" lengthAdjust="spacingAndGlyphs">A package for Spatial Omics Analysis in Python</text>

<!-- ============ PANEL C ============ -->
<rect x="243.5" y="429.5" width="358" height="32.5" fill="#f39800"/>
<polygon points="504.9,429.5 515.2,429.5 510,439.5" fill="#a3a3a3"/>
<text x="253.4" y="454" font-size="18.5" font-weight="bold" fill="#fff">c,</text>
<text x="279.2" y="454" font-size="18.5" font-weight="bold" fill="#fff" textLength="178" lengthAdjust="spacingAndGlyphs">Spatial Architecture</text>
<rect x="244.5" y="462.5" width="355.5" height="426.5" fill="none" stroke="#e8582a" stroke-width="2.2" stroke-dasharray="4 3"/>
<line x1="244.5" y1="757.3" x2="600" y2="757.3" stroke="#e8582a" stroke-width="2.2" stroke-dasharray="4 3"/>
<text x="253.9" y="491.5" font-size="18.5" font-weight="bold" textLength="168" lengthAdjust="spacingAndGlyphs">Cell type proximity</text>
<g class="e">
<line x1="299.1" y1="537" x2="339.5" y2="522.1"/><line x1="299.1" y1="537" x2="314.9" y2="556"/><line x1="339.5" y1="522.1" x2="314.9" y2="556"/><line x1="339.5" y1="522.1" x2="354" y2="557.5"/><line x1="314.9" y1="556" x2="331.6" y2="567.9"/><line x1="331.6" y1="567.9" x2="354" y2="557.5"/>
</g>
<g class="n">
<circle cx="299.1" cy="537" r="8.9" class="cg"/><circle cx="339.5" cy="522.1" r="8.9" class="cg"/><circle cx="314.9" cy="556" r="8.9" class="cb"/><circle cx="331.6" cy="567.9" r="8.9" class="g"/><circle cx="354" cy="557.5" r="8.9" class="g"/>
</g>
<g font-size="12" fill="#666" text-anchor="middle">
<text x="299.9" y="526">B</text><text x="359" y="545">X</text><text x="300.9" y="564.6">A</text>
</g>
<g class="sf" fill="#555">
<text x="405.4" y="518" font-size="13.5">Nscore =</text>
<line x1="458.8" y1="514.7" x2="537.5" y2="514.7" stroke="#222" stroke-width="1.4"/>
<text x="483" y="509" font-size="15">N<tspan font-size="9">A,B</tspan></text>
<text x="461.5" y="532" font-size="15">N<tspan font-size="9">A,X</tspan> + N<tspan font-size="9">B,X</tspan></text>
<text x="400.9" y="571" font-size="13.5">Iscore –</text>
<line x1="450.6" y1="567.3" x2="556" y2="567.3" stroke="#222" stroke-width="1.4"/>
<text x="488.5" y="559" font-size="15">N<tspan font-size="9" dy="3">A,B</tspan></text>
<text x="451" y="588" font-size="15" textLength="106" lengthAdjust="spacingAndGlyphs">Min(N<tspan font-size="9">A,A</tspan> , N<tspan font-size="9">B,B</tspan>)</text>
</g>
<rect x="309.4" y="619.2" width="23.25" height="22.05" fill="#8b1a24"/><rect x="332.65" y="619.2" width="23.25" height="22.05" fill="#7ba8c8"/><rect x="355.9" y="619.2" width="23.25" height="22.05" fill="#e8854f"/><rect x="379.15" y="619.2" width="23.25" height="22.05" fill="#f0dca8"/>
<rect x="309.4" y="641.25" width="23.25" height="22.05" fill="#b0d8e4"/><rect x="332.65" y="641.25" width="23.25" height="22.05" fill="#f0c480"/><rect x="355.9" y="641.25" width="23.25" height="22.05" fill="#8b1a24"/><rect x="379.15" y="641.25" width="23.25" height="22.05" fill="#7ba8c8"/>
<rect x="309.4" y="663.3" width="23.25" height="22.05" fill="#7ba8c8"/><rect x="332.65" y="663.3" width="23.25" height="22.05" fill="#d4ecf0"/><rect x="355.9" y="663.3" width="23.25" height="22.05" fill="#b4dce4"/><rect x="379.15" y="663.3" width="23.25" height="22.05" fill="#e8ecd6"/>
<rect x="309.4" y="685.35" width="23.25" height="22.05" fill="#7ba8c8"/><rect x="332.65" y="685.35" width="23.25" height="22.05" fill="#e88650"/><rect x="355.9" y="685.35" width="23.25" height="22.05" fill="#dc6040"/><rect x="379.15" y="685.35" width="23.25" height="22.05" fill="#8b1a24"/>
<g font-size="16" fill="#555" text-anchor="middle">
<text x="287.5" y="636">A</text><text x="287.5" y="657">B</text><text x="287.5" y="680.5">C</text><text x="287.5" y="703.5">D</text>
</g>
<g class="n" stroke-width="1.3">
<circle cx="302" cy="630.4" r="5.5" class="cb"/><circle cx="302" cy="652" r="5.5" class="cg"/><circle cx="302" cy="674.8" r="5.5" class="cp"/><circle cx="302" cy="698" r="5.5" class="co"/>
<circle cx="323.7" cy="715.2" r="5.5" class="co"/><circle cx="345.2" cy="715.2" r="5.5" class="cp"/><circle cx="370.8" cy="715.2" r="5.5" class="cg"/><circle cx="391.4" cy="715.2" r="5.5" class="cb"/>
</g>
<text x="268.8" y="665.2" font-size="14" fill="#666" text-anchor="middle" dominant-baseline="central" transform="rotate(-90 268.8 665.2)" textLength="54" lengthAdjust="spacingAndGlyphs">cell type</text>
<text x="252.9" y="740.4" font-size="16" textLength="174" lengthAdjust="spacingAndGlyphs">1) Neighborhood Score</text>
<rect x="481" y="677.7" width="9.5" height="30.5" fill="#5bbcd4" stroke="#3a9cb8" stroke-width="0.8"/>
<rect x="498.3" y="677.7" width="9.5" height="30.5" fill="#5bbcd4" stroke="#3a9cb8" stroke-width="0.8"/>
<rect x="514.3" y="644.7" width="11.9" height="63.5" fill="#c9a060" stroke="#333" stroke-width="1"/>
<rect x="533" y="676.8" width="9.6" height="31.4" fill="#5bbcd4" stroke="#3a9cb8" stroke-width="0.8"/>
<polyline points="470.7,619 470.7,708.3 563,708.3" fill="none" stroke="#222" stroke-width="1.4"/>
<polygon points="468.2,622.5 470.7,615.5 473.2,622.5" fill="#222"/>
<polygon points="561,705.8 567.5,708.3 561,710.8" fill="#222"/>
<text x="481.8" y="630" font-size="14.5" fill="#555" textLength="88.5" lengthAdjust="spacingAndGlyphs">A-hot sample</text>
<text x="521" y="642" font-size="9" fill="#444" text-anchor="middle">***</text>
<text x="530" y="720.2" font-size="13" fill="#666" textLength="50.5" lengthAdjust="spacingAndGlyphs">Samples</text>
<text x="458.8" y="664.7" font-size="15" fill="#555" text-anchor="middle" dominant-baseline="central" transform="rotate(-90 458.8 664.7)" textLength="70" lengthAdjust="spacingAndGlyphs">Iscore in B</text>
<text x="440" y="740.4" font-size="16" textLength="142" lengthAdjust="spacingAndGlyphs">2) Infiltration Score</text>
<text x="322.2" y="788" font-size="18.5" font-weight="bold" text-anchor="middle">Niche</text>
<text x="322.2" y="810.7" font-size="18.5" font-weight="bold" text-anchor="middle" textLength="111.4" lengthAdjust="spacingAndGlyphs">composition</text>
<circle cx="321.4" cy="848" r="25" fill="#d4d5dc" stroke="#333" stroke-width="1.3" stroke-dasharray="3.5 2.5"/>
<line x1="321.4" y1="848.8" x2="335" y2="871" stroke="#333" stroke-width="1"/>
<line x1="335" y1="871" x2="351" y2="871" stroke="#333" stroke-width="1"/>
<g class="n" stroke-width="1.3">
<circle cx="317.1" cy="835.5" r="6" class="cp"/><circle cx="338" cy="842.9" r="6" class="co"/><circle cx="307.6" cy="852.4" r="6" class="co"/><circle cx="330.1" cy="855.3" r="6" class="cb"/><circle cx="321.4" cy="848.8" r="6" class="g"/><circle cx="320.6" cy="865.1" r="6" class="cg"/>
</g>
<text x="352.9" y="874" font-size="9" fill="#333" textLength="40" lengthAdjust="spacingAndGlyphs">Index cell</text>
<text x="447.8" y="778" font-size="13" fill="#666" textLength="62.4" lengthAdjust="spacingAndGlyphs">Niche type</text>
<g stroke="#444" stroke-width="0.8">
<rect x="447.5" y="785" width="11.91" height="9" fill="#2e7fc0"/><rect x="459.41" y="785" width="11.91" height="9" fill="#2e7fc0"/><rect x="471.32" y="785" width="11.91" height="9" fill="#2e7fc0"/><rect x="483.23" y="785" width="11.91" height="9" fill="#e0355a"/><rect x="495.14" y="785" width="11.91" height="9" fill="#e0355a"/><rect x="507.05" y="785" width="11.91" height="9" fill="#e0355a"/><rect x="518.96" y="785" width="11.91" height="9" fill="#b8d030"/><rect x="530.87" y="785" width="11.91" height="9" fill="#b8d030"/>
</g>
<text x="447.8" y="808" font-size="11" fill="#666" textLength="47.5" lengthAdjust="spacingAndGlyphs">Index cell</text>
<g stroke="#222" stroke-width="1.3">
<rect x="448.5" y="810.3" width="11.81" height="16.85" fill="#c8d4e4"/><rect x="460.31" y="810.3" width="11.81" height="16.85" fill="#e4e8f0"/><rect x="472.12" y="810.3" width="11.81" height="16.85" fill="#f4f4f6"/><rect x="483.93" y="810.3" width="11.81" height="16.85" fill="#dc98a0"/><rect x="495.74" y="810.3" width="11.81" height="16.85" fill="#f0d8dc"/><rect x="507.55" y="810.3" width="11.81" height="16.85" fill="#c05058"/><rect x="519.36" y="810.3" width="11.81" height="16.85" fill="#e0e4ec"/><rect x="531.17" y="810.3" width="11.81" height="16.85" fill="#f4f4f6"/>
<rect x="448.5" y="827.15" width="11.81" height="16.85" fill="#c0cce0"/><rect x="460.31" y="827.15" width="11.81" height="16.85" fill="#e0e4ec"/><rect x="472.12" y="827.15" width="11.81" height="16.85" fill="#f4f4f6"/><rect x="483.93" y="827.15" width="11.81" height="16.85" fill="#d07c88"/><rect x="495.74" y="827.15" width="11.81" height="16.85" fill="#f0d8dc"/><rect x="507.55" y="827.15" width="11.81" height="16.85" fill="#d48890"/><rect x="519.36" y="827.15" width="11.81" height="16.85" fill="#7094c0"/><rect x="531.17" y="827.15" width="11.81" height="16.85" fill="#f4f4f6"/>
<rect x="448.5" y="844" width="11.81" height="16.85" fill="#f0d8dc"/><rect x="460.31" y="844" width="11.81" height="16.85" fill="#c45860"/><rect x="472.12" y="844" width="11.81" height="16.85" fill="#e8a8ac"/><rect x="483.93" y="844" width="11.81" height="16.85" fill="#fafafa"/><rect x="495.74" y="844" width="11.81" height="16.85" fill="#8ca8cc"/><rect x="507.55" y="844" width="11.81" height="16.85" fill="#b8c8dc"/><rect x="519.36" y="844" width="11.81" height="16.85" fill="#d48890"/><rect x="531.17" y="844" width="11.81" height="16.85" fill="#e4b8c0"/>
<rect x="448.5" y="860.85" width="11.81" height="16.85" fill="#c0cce0"/><rect x="460.31" y="860.85" width="11.81" height="16.85" fill="#fafafa"/><rect x="472.12" y="860.85" width="11.81" height="16.85" fill="#fafafa"/><rect x="483.93" y="860.85" width="11.81" height="16.85" fill="#f0d8dc"/><rect x="495.74" y="860.85" width="11.81" height="16.85" fill="#e0a0a8"/><rect x="507.55" y="860.85" width="11.81" height="16.85" fill="#d07c88"/><rect x="519.36" y="860.85" width="11.81" height="16.85" fill="#dc98a0"/><rect x="531.17" y="860.85" width="11.81" height="16.85" fill="#e09098"/>
</g>
<rect x="448.5" y="810.3" width="94.5" height="67.4" fill="none" stroke="#111" stroke-width="1.8"/>
<g class="n" stroke-width="1.3">
<circle cx="437" cy="815.2" r="6" class="cb"/><circle cx="437" cy="833" r="6" class="cg"/><circle cx="437" cy="851.2" r="6" class="cp"/><circle cx="437" cy="868.7" r="6" class="co"/>
</g>
<text x="421" y="837.6" font-size="13" fill="#666" text-anchor="middle" dominant-baseline="central" transform="rotate(-90 421 837.6)" textLength="74" lengthAdjust="spacingAndGlyphs">Neighbor type</text>

<!-- ============ PANEL D ============ -->
<rect x="618.3" y="429.5" width="319.7" height="32.5" fill="#b17f45"/>
<text x="626.6" y="454.4" font-size="18.5" font-weight="bold" fill="#fff">d,</text>
<text x="656.3" y="454.4" font-size="18.5" font-weight="bold" fill="#fff" textLength="219" lengthAdjust="spacingAndGlyphs">Spatial Communications</text>
<rect x="619.5" y="462.5" width="317.5" height="426.5" fill="none" stroke="#8c6232" stroke-width="2" stroke-dasharray="3 3"/>
<text x="632" y="491" font-size="18.5" font-weight="bold" textLength="142.5" lengthAdjust="spacingAndGlyphs">Ligand-receptor</text>
<g font-size="14.5" fill="#666" text-anchor="middle">
<text x="678" y="526.7" textLength="52" lengthAdjust="spacingAndGlyphs">Contact</text><text x="678" y="544.5">LRs</text>
<text x="815.9" y="526.7" textLength="59.7" lengthAdjust="spacingAndGlyphs">Secreted</text><text x="815.9" y="544.5">LRs</text>
</g>
<g class="n">
<circle cx="736.5" cy="525.1" r="8.3" class="o"/><circle cx="744.9" cy="541.1" r="8.3" class="r"/><circle cx="727.6" cy="543.5" r="8.3" class="o"/>
</g>
<circle cx="897.5" cy="531.6" r="33" fill="none" stroke="#333" stroke-width="1.5" stroke-dasharray="4 3"/>
<g class="e">
<line x1="897.4" y1="531.6" x2="877.5" y2="522.7"/><line x1="897.4" y1="531.6" x2="911.6" y2="515.9"/><line x1="897.4" y1="531.6" x2="910.1" y2="553.9"/>
</g>
<g class="n">
<circle cx="877.5" cy="522.7" r="8.3" class="o"/><circle cx="911.6" cy="515.9" r="8.3" class="o"/><circle cx="897.4" cy="531.6" r="8.3" class="r"/><circle cx="910.1" cy="553.9" r="8.3" class="o"/>
</g>
<text x="913" y="541" font-size="13" fill="#666" text-anchor="middle">d</text>
<text x="766.2" y="594" font-size="18.5" font-weight="bold" text-anchor="middle" textLength="82.5" lengthAdjust="spacingAndGlyphs">Cell-level</text>
<text x="768" y="617" font-size="18.5" font-weight="bold" text-anchor="middle" textLength="223" lengthAdjust="spacingAndGlyphs">spatial-constrained pairs</text>
<g class="e">
<line x1="682.4" y1="680.2" x2="685.4" y2="650.7"/><line x1="682.4" y1="680.2" x2="655.3" y2="677.2"/><line x1="682.4" y1="680.2" x2="688.4" y2="706.3"/>
</g>
<g class="n">
<circle cx="685.4" cy="650.7" r="8.3" fill="#d86a64"/><circle cx="682.4" cy="680.2" r="8.3" class="r"/><circle cx="655.3" cy="677.2" r="8.3" class="lb"/><circle cx="688.4" cy="706.3" r="8.3" class="lb"/>
</g>
<text x="698" y="656" font-size="14.5" fill="#666" textLength="49" lengthAdjust="spacingAndGlyphs">R Expr.</text>
<text x="699.5" y="686.6" font-size="14.5" fill="#666" textLength="46" lengthAdjust="spacingAndGlyphs">L Expr.</text>
<path d="M791.4,714 L791.4,706 C796,698 800,690 806,684 C812,678 818,675 826,675.5 C834,677 838,686 844,694 C849,701 854,706 860,710 L871,713.5 L871,714.3 Z" fill="#c8c8c8"/>
<path d="M791.4,706 C796,698 800,690 806,684 C812,678 818,675 826,675.5 C834,677 838,686 844,694 C849,701 854,706 860,710 L871,713.5" fill="none" stroke="#222" stroke-width="1.2"/>
<line x1="851.5" y1="695" x2="851.5" y2="714" stroke="#222" stroke-width="1" stroke-dasharray="2.5 2"/>
<polyline points="790.5,650 790.5,714.3 881,714.3" fill="none" stroke="#222" stroke-width="1.3"/>
<polygon points="788.3,653.5 790.5,647 792.7,653.5" fill="#222"/>
<polygon points="879,712.1 885.5,714.3 879,716.5" fill="#222"/>
<text x="797.9" y="657.7" font-size="14.5" fill="#555" textLength="102.5" lengthAdjust="spacingAndGlyphs">Null distribution</text>
<text x="857.3" y="689" font-size="14.5" fill="#555" textLength="47.5" lengthAdjust="spacingAndGlyphs">p value</text>
<text x="778.5" y="674.2" font-size="12" fill="#666" text-anchor="middle" dominant-baseline="central" transform="rotate(-90 778.5 674.2)" textLength="56.4" lengthAdjust="spacingAndGlyphs">L-R score</text>
<text x="765.8" y="743.3" font-size="18.5" font-weight="bold" text-anchor="middle" textLength="126" lengthAdjust="spacingAndGlyphs">Cell type-level</text>
<text x="768" y="765.6" font-size="18.5" font-weight="bold" text-anchor="middle" textLength="223" lengthAdjust="spacingAndGlyphs">spatial-constrained pairs</text>
<g class="e">
<line x1="686.1" y1="828.6" x2="689" y2="800.4"/><line x1="686.1" y1="828.6" x2="658.7" y2="825.1"/><line x1="686.1" y1="828.6" x2="725.2" y2="836.9"/><line x1="686.1" y1="828.6" x2="692" y2="855.4"/><line x1="725.2" y1="836.9" x2="733.5" y2="805.4"/>
</g>
<g class="n">
<circle cx="689" cy="800.4" r="8.3" class="o"/><circle cx="733.5" cy="805.4" r="8.3" class="o"/><circle cx="686.1" cy="828.6" r="8.3" class="r"/><circle cx="658.7" cy="825.1" r="8.3" class="g"/><circle cx="725.2" cy="836.9" r="8.3" class="g"/><circle cx="692" cy="855.4" r="8.3" class="g"/>
</g>
<g font-size="12" fill="#666" text-anchor="middle">
<text x="668.3" y="804">B</text><text x="716.2" y="809">B</text><text x="671.3" y="845">A</text>
</g>
<line x1="791.4" y1="815.3" x2="862" y2="815.3" stroke="#888" stroke-width="1" stroke-dasharray="2 2"/>
<line x1="841.9" y1="797" x2="841.9" y2="854.4" stroke="#888" stroke-width="1" stroke-dasharray="3 2"/>
<polyline points="791.4,790 791.4,854.4 881,854.4" fill="none" stroke="#222" stroke-width="1.3"/>
<polygon points="789.2,793.5 791.4,787 793.6,793.5" fill="#222"/>
<polygon points="879,852.2 885.5,854.4 879,856.6" fill="#222"/>
<circle cx="851.8" cy="800.2" r="4" fill="#f06010"/><circle cx="865.2" cy="808.2" r="4" fill="#f06010"/>
<circle cx="817.7" cy="812.1" r="4" fill="#c4c4c4"/><circle cx="831.1" cy="842.7" r="4" fill="#c4c4c4"/><circle cx="860.8" cy="843.9" r="4" fill="#c4c4c4"/>
<text x="780.9" y="819.5" font-size="13" fill="#666" text-anchor="middle" dominant-baseline="central" transform="rotate(-90 780.9 819.5)" textLength="38.6" lengthAdjust="spacingAndGlyphs">Affinity</text>
<text x="838.1" y="868.6" font-size="13" fill="#666" text-anchor="middle" textLength="49" lengthAdjust="spacingAndGlyphs">Strength</text>
</svg>
</body></html>
